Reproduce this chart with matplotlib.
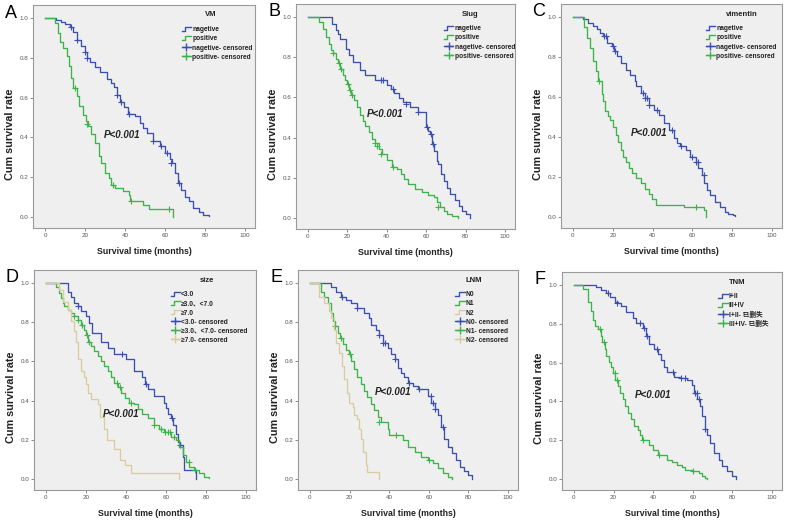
import matplotlib
matplotlib.use('Agg')
import matplotlib.pyplot as plt
from matplotlib.legend_handler import HandlerBase
from matplotlib.lines import Line2D
import numpy as np

plt.rcParams['font.family'] = ['Liberation Sans', 'Noto Sans CJK SC']

BLUE = '#3d4fae'
GREEN = '#3cb44a'
TAN = '#d9cc9e'

# ---- A: VM ----
a_neg_t = [0, 5.5, 8, 10, 12.5, 14, 16, 18, 20, 21, 22.5, 25, 27.5, 31, 33, 34.5, 36, 37.5, 39.5, 41.7,
           45, 47.5, 49, 51, 54, 57.5, 60, 62.5, 63.5, 65, 66.7, 68, 70, 72, 74, 77, 79, 82]
a_neg_s = [1.0, 0.99, 0.98, 0.97, 0.955, 0.93, 0.89, 0.86, 0.83, 0.80, 0.78, 0.755, 0.73, 0.695, 0.675, 0.655,
           0.615, 0.58, 0.555, 0.52, 0.51, 0.47, 0.445, 0.42, 0.38, 0.355, 0.32, 0.29, 0.27, 0.22, 0.17, 0.137,
           0.10, 0.08, 0.045, 0.023, 0.01, 0.004]
a_neg_ct = [13, 16, 20, 21, 36, 38, 42, 54, 58, 61, 63, 67]
a_neg_cs = [0.955, 0.89, 0.83, 0.80, 0.615, 0.58, 0.52, 0.38, 0.355, 0.32, 0.27, 0.17]
a_pos_t = [0, 5, 6.7, 7.5, 9, 11, 12, 13, 14, 16, 17, 19, 20.5, 21.7, 23, 25, 27, 28, 30, 32, 33, 35,
           39, 42, 42.5, 49, 52, 64]
a_pos_s = [1.0, 0.975, 0.925, 0.88, 0.85, 0.81, 0.76, 0.70, 0.65, 0.61, 0.56, 0.515, 0.48, 0.455, 0.415,
           0.37, 0.305, 0.27, 0.22, 0.195, 0.16, 0.145, 0.13, 0.11, 0.08, 0.06, 0.04, 0.0]
a_pos_ct = [15, 21, 34, 43, 62]
a_pos_cs = [0.65, 0.465, 0.16, 0.08, 0.04]

# ---- B: Slug ----
b_neg_t = [0, 12.3, 14.3, 15.3, 16.5, 19.4, 20.7, 23, 26.6, 29, 34, 40, 42, 43.5, 46, 48, 52, 56, 60, 61,
           62, 63, 64, 65.5, 66, 67.6, 69, 70.5, 72, 74.7, 76.4, 78, 80, 82]
b_neg_s = [1.0, 0.965, 0.935, 0.915, 0.89, 0.84, 0.81, 0.775, 0.735, 0.71, 0.685, 0.66, 0.64, 0.62, 0.595,
           0.575, 0.55, 0.525, 0.452, 0.435, 0.42, 0.37, 0.335, 0.285, 0.27, 0.22, 0.185, 0.15, 0.12, 0.087,
           0.06, 0.037, 0.02, 0.0]
b_neg_ct = [37, 38, 43, 50, 56, 60.5, 62.5, 63.5]
b_neg_cs = [0.685, 0.685, 0.64, 0.565, 0.525, 0.452, 0.42, 0.37]
b_pos_t = [0, 5.5, 7.6, 9, 10.6, 11.5, 13, 14.3, 15.3, 16.5, 17.7, 19, 20, 21, 22, 23.3, 25, 26.6, 27.8,
           29, 31, 32.5, 34, 36, 37.6, 40, 42.7, 45, 47, 48.6, 51, 54.5, 58, 61, 64, 65.5, 67, 69, 70.5,
           73, 76]
b_pos_s = [1.0, 0.975, 0.94, 0.90, 0.867, 0.835, 0.82, 0.79, 0.77, 0.74, 0.71, 0.685, 0.665, 0.635, 0.61,
           0.585, 0.55, 0.51, 0.485, 0.46, 0.427, 0.394, 0.372, 0.344, 0.316, 0.286, 0.252, 0.244, 0.22,
           0.194, 0.17, 0.145, 0.128, 0.116, 0.103, 0.078, 0.053, 0.037, 0.02, 0.012, 0.0]
b_pos_ct = [13, 16, 17, 20.5, 21.5, 22.5, 34, 35, 37, 43, 66]
b_pos_cs = [0.82, 0.77, 0.74, 0.665, 0.635, 0.61, 0.372, 0.36, 0.316, 0.252, 0.055]

# ---- C: vimentin ----
c_neg_t = [0, 5.3, 7.8, 10.3, 12, 13.6, 15.2, 17, 19.4, 20.7, 21.9, 24.3, 26.8, 28.5, 31, 31.8, 34.3, 36,
           38.4, 40.9, 43.4, 45.9, 48.3, 50.8, 52.5, 54, 56.6, 59, 61.6, 63, 65, 66, 67.4, 69, 71.5, 74,
           76.5, 78, 80.6, 81.5]
c_neg_s = [1.0, 0.988, 0.97, 0.955, 0.938, 0.92, 0.905, 0.87, 0.854, 0.83, 0.804, 0.77, 0.737, 0.712, 0.68,
           0.653, 0.62, 0.595, 0.56, 0.536, 0.51, 0.47, 0.436, 0.395, 0.37, 0.353, 0.335, 0.30, 0.276, 0.243,
           0.21, 0.168, 0.134, 0.109, 0.075, 0.05, 0.025, 0.017, 0.008, 0.004]
c_neg_ct = [15.5, 16.5, 20, 21, 35, 36, 37, 38, 42, 50, 54.5, 60, 62, 63, 66]
c_neg_cs = [0.905, 0.905, 0.854, 0.83, 0.62, 0.595, 0.595, 0.56, 0.536, 0.436, 0.353, 0.30, 0.276, 0.276,
            0.21]
c_pos_t = [0, 5.5, 7, 8.6, 10.3, 11.4, 12.7, 14.4, 15.2, 16, 17.4, 18.5, 20.2, 21.4, 22.7, 24, 25.2, 26.8,
           28, 29.8, 31.8, 34.3, 36, 38, 39.6, 41.7, 55.8, 65.7, 67]
c_pos_s = [1.0, 0.95, 0.896, 0.846, 0.78, 0.73, 0.68, 0.613, 0.58, 0.53, 0.503, 0.486, 0.452, 0.41, 0.377,
           0.335, 0.30, 0.276, 0.243, 0.218, 0.193, 0.168, 0.142, 0.117, 0.092, 0.062, 0.05, 0.033, 0.0]
c_pos_ct = [13.2, 62]
c_pos_cs = [0.68, 0.05]

# ---- D: size ----
d_s1_t = [0, 10.8, 12.5, 14, 16, 17.5, 20, 21.7, 23, 27.5, 31, 34, 40, 44, 48, 49.5, 50.8, 54, 59, 60, 61,
          62.5, 63.7, 65, 66, 67, 68.3, 69, 75]
d_s1_s = [1.0, 0.955, 0.93, 0.896, 0.88, 0.854, 0.83, 0.795, 0.745, 0.70, 0.67, 0.635, 0.61, 0.55, 0.518,
          0.484, 0.46, 0.425, 0.39, 0.36, 0.333, 0.31, 0.275, 0.23, 0.19, 0.173, 0.114, 0.047, 0.0]
d_s1_ct = [16, 38, 50, 63, 67]
d_s1_cs = [0.88, 0.635, 0.484, 0.31, 0.173]
d_s2_t = [0, 5, 6.7, 7.5, 8.3, 9.2, 10.8, 12.5, 14, 15.8, 17.5, 18.8, 20, 21.2, 22.5, 24.2, 26, 27.5, 29,
          31, 32.5, 34, 36, 37.5, 39.5, 41.7, 44, 45.8, 48, 51, 54, 56.7, 59, 62.5, 65, 66.7, 68.3, 70,
          71.7, 74, 76.7, 79, 81.7]
d_s2_s = [1.0, 0.98, 0.946, 0.92, 0.896, 0.88, 0.862, 0.845, 0.83, 0.81, 0.787, 0.76, 0.736, 0.70, 0.677,
          0.652, 0.627, 0.60, 0.575, 0.55, 0.518, 0.49, 0.467, 0.44, 0.415, 0.39, 0.383, 0.358, 0.333, 0.31,
          0.274, 0.257, 0.24, 0.215, 0.198, 0.165, 0.123, 0.09, 0.064, 0.047, 0.03, 0.013, 0.005]
d_s2_ct = [14, 16, 18, 20.5, 21.5, 35.5, 37, 42.5, 54, 57.5, 59.5, 61, 62, 64, 71.5, 74.5]
d_s2_cs = [0.83, 0.81, 0.787, 0.736, 0.70, 0.49, 0.467, 0.39, 0.274, 0.257, 0.24, 0.24, 0.24, 0.215, 0.09,
           0.047]
d_s3_t = [0, 6.7, 8.3, 10.8, 12.5, 13.8, 15, 15.8, 17.5, 18.8, 20, 21.2, 22.5, 26, 27.2, 29, 30.5, 34, 37,
          39.5, 42.5, 66.7]
d_s3_s = [1.0, 0.963, 0.904, 0.862, 0.803, 0.753, 0.70, 0.61, 0.55, 0.518, 0.484, 0.44, 0.408, 0.383,
          0.316, 0.257, 0.198, 0.156, 0.097, 0.072, 0.03, 0.0]
d_s3_ct = []
d_s3_cs = []

# ---- E: LNM ----
e_n0_t = [0, 10.6, 13, 15.7, 18.2, 20.7, 24, 27.5, 30, 30.9, 33.4, 35, 36.8, 39.3, 41, 42.7, 44.4, 46,
          47.7, 49.4, 52, 54.5, 59.5, 61.2, 63, 64.6, 66.3, 67.6, 69.6, 71.7, 73.9, 75.5, 78, 80, 82]
e_n0_s = [1.0, 0.98, 0.955, 0.93, 0.913, 0.896, 0.87, 0.845, 0.82, 0.787, 0.76, 0.736, 0.694, 0.67, 0.635,
          0.61, 0.568, 0.543, 0.518, 0.49, 0.476, 0.46, 0.425, 0.39, 0.358, 0.325, 0.265, 0.207, 0.165,
          0.131, 0.097, 0.064, 0.04, 0.02, 0.0]
e_n0_ct = [16, 24, 35, 37, 38, 43, 50, 55, 61, 62, 63, 67]
e_n0_cs = [0.93, 0.87, 0.736, 0.694, 0.694, 0.61, 0.49, 0.46, 0.425, 0.39, 0.358, 0.265]
e_n1_t = [0, 5.6, 7.3, 8.9, 10.6, 11.5, 12.6, 14, 15.3, 16.5, 18.2, 19.9, 20.7, 22.4, 24, 25.8, 27.5, 29,
          30.9, 32.5, 34.2, 35.9, 39.3, 40, 47, 49.4, 52.8, 56, 59.5, 62, 64.6, 67, 69.6, 71.7]
e_n1_s = [1.0, 0.955, 0.93, 0.896, 0.845, 0.803, 0.778, 0.745, 0.72, 0.686, 0.66, 0.635, 0.60, 0.56, 0.518,
          0.484, 0.45, 0.417, 0.383, 0.35, 0.316, 0.29, 0.257, 0.223, 0.198, 0.165, 0.14, 0.114, 0.097,
          0.08, 0.055, 0.03, 0.013, 0.0]
e_n1_ct = [12.5, 15.5, 20, 35, 43.5, 60]
e_n1_cs = [0.778, 0.72, 0.635, 0.29, 0.223, 0.097]
e_n2_t = [0, 4.5, 7.3, 9.8, 10.6, 12, 13.2, 14.8, 16, 17.4, 18.7, 19.9, 21.6, 22.4, 24, 25, 25.8, 26.6,
          28.3, 29, 34.7]
e_n2_s = [1.0, 0.93, 0.896, 0.854, 0.82, 0.76, 0.694, 0.644, 0.576, 0.51, 0.44, 0.39, 0.366, 0.325, 0.307,
          0.257, 0.207, 0.14, 0.072, 0.039, 0.0]
e_n2_ct = []
e_n2_cs = []

# ---- F: TNM ----
f_lo_t = [0, 11.3, 13.8, 16.3, 18, 20.5, 22.2, 23.8, 26.3, 29.7, 31.3, 35, 36.5, 38, 40.5, 42.2, 43.8,
          45.5, 47.2, 50.5, 53.8, 57.2, 59.7, 60.8, 62.2, 63.8, 64.7, 66, 67.2, 68.8, 70.5, 73, 74.7, 77.2,
          79.7, 82]
f_lo_s = [1.0, 0.988, 0.97, 0.955, 0.938, 0.913, 0.905, 0.888, 0.862, 0.83, 0.804, 0.775, 0.735, 0.695,
          0.67, 0.645, 0.611, 0.578, 0.553, 0.528, 0.52, 0.51, 0.486, 0.444, 0.41, 0.377, 0.327, 0.26, 0.226,
          0.184, 0.134, 0.10, 0.067, 0.042, 0.017, 0.0]
f_lo_ct = [17, 22, 33.5, 35.5, 37, 42, 50, 54, 56, 61, 62, 63, 66]
f_lo_cs = [0.955, 0.905, 0.804, 0.775, 0.735, 0.67, 0.553, 0.52, 0.52, 0.444, 0.444, 0.41, 0.26]
f_hi_t = [0, 4.7, 7.2, 8.5, 9.7, 10.8, 12.2, 13.5, 14.2, 15.5, 16.3, 17.5, 18.8, 19.7, 20.8, 22.2, 23.5,
          24.7, 25.8, 27.2, 28.8, 30.5, 32.2, 33.5, 34.2, 38, 39.7, 42.2, 47.2, 49.7, 52.2, 54.7, 56.3, 59.7,
          63, 64.7, 66.3, 67.2]
f_hi_s = [1.0, 0.98, 0.913, 0.863, 0.82, 0.787, 0.77, 0.737, 0.704, 0.67, 0.636, 0.603, 0.578, 0.544, 0.51,
          0.477, 0.444, 0.41, 0.377, 0.343, 0.31, 0.276, 0.251, 0.226, 0.20, 0.176, 0.15, 0.126, 0.10, 0.089,
          0.075, 0.062, 0.05, 0.042, 0.034, 0.017, 0.008, 0.003]
f_hi_ct = [13, 15, 20.5, 21.5, 35, 43, 60]
f_hi_cs = [0.77, 0.704, 0.544, 0.51, 0.20, 0.126, 0.042]

titles = ['VM', 'Slug', 'vimentin', 'size', 'LNM', 'TNM']
letters = ['A', 'B', 'C', 'D', 'E', 'F']
labels_a = ['nagetive', 'positive', 'nagetive- censored', 'positive- censored']
labels_b = labels_a
labels_c = labels_a
labels_d = ['<3.0', '\u22653.0\u3001<7.0', '\u22657.0', '<3.0- censored',
            '\u22653.0\u3001<7.0- censored', '\u22657.0- censored']
labels_e = ['N0', 'N1', 'N2', 'N0- censored', 'N1- censored', 'N2- censored']
labels_f = ['I+II', 'III+IV', 'I+II- \u5df2\u5220\u5931', 'III+IV- \u5df2\u5220\u5931']
p_text = 'P<0.001'


class StepHandler(HandlerBase):
    # small step glyph like the SPSS legend
    def create_artists(self, legend, orig_handle, xdescent, ydescent, width, height, fontsize, trans):
        x = np.array([0, 0.35, 0.35, 1.0]) * width - xdescent
        y = np.array([0.1, 0.1, 0.9, 0.9]) * height - ydescent
        ln = Line2D(x, y, color=orig_handle.get_color(), lw=1.0, transform=trans)
        return [ln]


def draw_panel(fig, box, curves, title, labels, letter, p_xy, leg_x, title_x):
    l, t, r, b = box
    W, H = 790.0, 523.0
    ax = fig.add_axes([l / W, 1 - b / H, (r - l) / W, (b - t) / H])
    ax.set_facecolor('#efefef')
    step_handles = []
    cens_handles = []
    for (ts, ss, ct, cs, col) in curves:
        h, = ax.step(ts, ss, where='post', color=col, lw=0.95)
        if len(ct):
            ax.plot(ct, cs, ls='none', marker='+', color=col, ms=5, mew=0.8)
        step_handles.append(h)
        cens_handles.append(Line2D([], [], color=col, lw=1.0, marker='+', ms=6, mew=1.0))
    ax.set_xlim(-6, 105)
    ax.set_ylim(-0.055, 1.065)
    ax.set_xticks([0, 20, 40, 60, 80, 100])
    ax.set_yticks([0.0, 0.2, 0.4, 0.6, 0.8, 1.0])
    ax.set_yticklabels(['0.0', '0.2', '0.4', '0.6', '0.8', '1.0'])
    ax.tick_params(labelsize=4.5, length=2, width=0.6, pad=1.5, colors='#777777', labelcolor='#555555')
    for sp in ax.spines.values():
        sp.set_color('#9a9a9a')
        sp.set_linewidth(0.8)
    ax.set_xlabel('Survival time (months)', fontsize=6.3, fontweight='bold', color='#222222')
    ax.set_ylabel('Cum survival rate', fontsize=7.8, fontweight='bold', color='#222222')
    ax.xaxis.set_label_coords(0.5, -0.085)
    ax.yaxis.set_label_coords(-0.08, 0.42)
    ax.text(p_xy[0], p_xy[1], p_text, fontsize=7, fontweight='bold', style='italic',
            ha='center', va='center', color='#222222')
    ax.text(title_x, 1 - 10.0 / (b - t), title, transform=ax.transAxes, fontsize=5.5,
            fontweight='bold', ha='center', va='center', color='#222222')
    handler = {h: StepHandler() for h in step_handles}
    leg = ax.legend(step_handles + cens_handles, labels, loc='upper left',
                    bbox_to_anchor=(leg_x, 1 - 18.0 / (b - t)),
                    frameon=False, fontsize=4.8,
                    handlelength=1.4, handleheight=0.9, handletextpad=0.2, labelspacing=0.3,
                    borderpad=0, handler_map=handler)
    for tx in leg.get_texts():
        tx.set_fontweight('bold')
        tx.set_color('#222222')
    fig.text((l - 22) / W, 1 - (t + 8) / H, letter, fontsize=13, ha='center', va='center')
    return ax


fig = plt.figure(figsize=(7.9, 5.23), dpi=100)

boxes = [(33, 5, 255, 228), (296, 4, 515, 229), (561, 4, 782, 228),
         (34, 270, 256, 490), (298, 270, 518, 490), (562, 272, 782, 490)]

draw_panel(fig, boxes[0],
           [(a_neg_t, a_neg_s, a_neg_ct, a_neg_cs, BLUE), (a_pos_t, a_pos_s, a_pos_ct, a_pos_cs, GREEN)],
           titles[0], labels_a, letters[0], (38.5, 0.414), 0.655, 0.80)
draw_panel(fig, boxes[1],
           [(b_neg_t, b_neg_s, b_neg_ct, b_neg_cs, BLUE), (b_pos_t, b_pos_s, b_pos_ct, b_pos_cs, GREEN)],
           titles[1], labels_b, letters[1], (39.3, 0.518), 0.66, 0.795)
draw_panel(fig, boxes[2],
           [(c_neg_t, c_neg_s, c_neg_ct, c_neg_cs, BLUE), (c_pos_t, c_pos_s, c_pos_ct, c_pos_cs, GREEN)],
           titles[2], labels_c, letters[2], (38.4, 0.422), 0.64, 0.82)
draw_panel(fig, boxes[3],
           [(d_s1_t, d_s1_s, d_s1_ct, d_s1_cs, BLUE), (d_s2_t, d_s2_s, d_s2_ct, d_s2_cs, GREEN),
            (d_s3_t, d_s3_s, d_s3_ct, d_s3_cs, TAN)],
           titles[3], labels_d, letters[3], (37.5, 0.333), 0.60, 0.78)
draw_panel(fig, boxes[4],
           [(e_n0_t, e_n0_s, e_n0_ct, e_n0_cs, BLUE), (e_n1_t, e_n1_s, e_n1_ct, e_n1_cs, GREEN),
            (e_n2_t, e_n2_s, e_n2_ct, e_n2_cs, TAN)],
           titles[4], labels_e, letters[4], (41.8, 0.442), 0.70, 0.80)
draw_panel(fig, boxes[5],
           [(f_lo_t, f_lo_s, f_lo_ct, f_lo_cs, BLUE), (f_hi_t, f_hi_s, f_hi_ct, f_hi_cs, GREEN)],
           titles[5], labels_f, letters[5], (40.2, 0.435), 0.695, 0.795)

fig.savefig('out.png', dpi=100, facecolor='white')
